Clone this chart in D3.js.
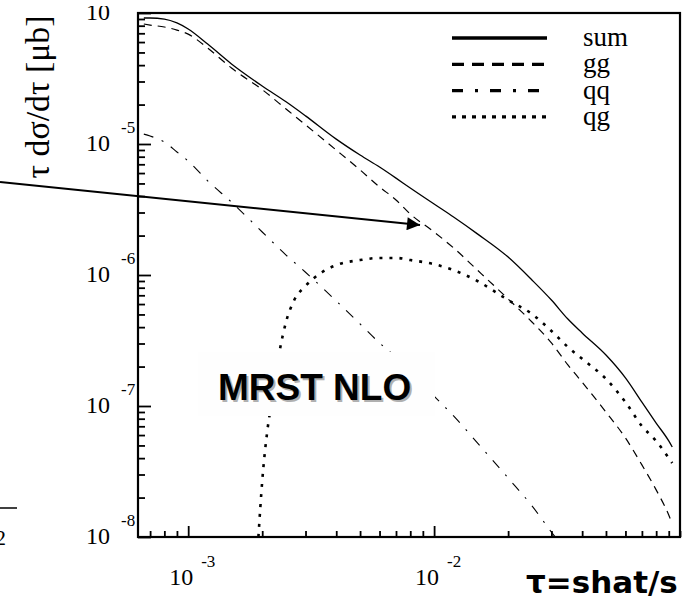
<!DOCTYPE html>
<html>
<head>
<meta charset="utf-8">
<script src="https://cdn.jsdelivr.net/npm/d3@7"></script>
<style>
  body { margin: 0; background: white; }
  svg { display: block; }
  .serif { font-family: "Liberation Serif", "Times New Roman", Times, "DejaVu Serif", serif; }
</style>
</head>
<body>
<div id="chart1"></div>
<script>

// ================================ data
// tau grid shared by sum, gg and qq
var tau = [6.6e-4, 7e-4, 8e-4, 9e-4, 1e-3, 1.2e-3, 1.5e-3, 2e-3, 2.5e-3, 3e-3,
           4e-3, 5e-3, 6e-3, 7e-3, 8e-3, 1e-2, 1.2e-2, 1.5e-2, 2e-2, 2.5e-2,
           3e-2, 3.5e-2, 4e-2, 5e-2, 6e-2, 7e-2, 8e-2, 9e-2, 9.3e-2];

var sumVals = [9.16e-5, 9.16e-5, 8.99e-5, 8.40e-5, 7.55e-5, 5.79e-5, 4.08e-5, 2.77e-5, 2.10e-5, 1.64e-5,
               1.09e-5, 8.24e-6, 6.67e-6, 5.49e-6, 4.61e-6, 3.48e-6, 2.77e-6, 2.06e-6, 1.37e-6, 9.16e-7,
               6.44e-7, 4.61e-7, 3.61e-7, 2.45e-7, 1.64e-7, 1.07e-7, 7.41e-8, 5.41e-8, 4.86e-8];

var ggVals = [8.24e-5, 8.09e-5, 7.82e-5, 7.41e-5, 6.9e-5, 5.4e-5, 3.8e-5, 2.6e-5, 1.85e-5, 1.40e-5,
              8.99e-6, 6.34e-6, 4.70e-6, 3.74e-6, 2.92e-6, 2.13e-6, 1.61e-6, 1.09e-6, 6.56e-7, 4.38e-7,
              3.03e-7, 2.06e-7, 1.52e-7, 8.99e-8, 5.70e-8, 3.55e-8, 2.29e-8, 1.47e-8, 1.26e-8];

var qqVals = [1.19e-5, 1.15e-5, 1.035e-5, 8.69e-6, 7.41e-6, 5.23e-6, 3.60e-6, 2.13e-6, 1.42e-6, 1.05e-6,
              6.34e-7, 4.23e-7, 3.03e-7, 2.37e-7, 1.88e-7, 1.19e-7, 8.40e-8, 5.23e-8, 2.82e-8, 1.73e-8,
              1.09e-8, 7.55e-9, null, null, null, null, null, null, null];

// qg has its own grid (it rises out of the bottom axis)
var tauQg = [1.93e-3, 2.0e-3, 2.1e-3, 2.2e-3, 2.35e-3, 2.5e-3, 2.7e-3, 3e-3, 3.5e-3, 4e-3,
             5e-3, 6e-3, 7e-3, 8e-3, 1e-2, 1.2e-2, 1.5e-2, 2e-2, 2.5e-2, 3e-2,
             3.5e-2, 4e-2, 5e-2, 6e-2, 7e-2, 8e-2, 9e-2, 9.3e-2];

var qgVals = [1.0e-8, 2.67e-8, 6.56e-8, 1.15e-7, 2.58e-7, 4.38e-7, 6.44e-7, 8.24e-7, 1.05e-6, 1.19e-6,
              1.30e-6, 1.35e-6, 1.35e-6, 1.30e-6, 1.21e-6, 1.09e-6, 9.0e-7, 6.44e-7, 5.04e-7, 3.74e-7,
              2.82e-7, 2.29e-7, 1.61e-7, 1.07e-7, 7.03e-8, 5.41e-8, 4.01e-8, 3.67e-8];

var legendNames = ["sum", "gg", "qq", "qg"];
var xMajor = [1e-3, 1e-2];
var yMajor = [1e-8, 1e-7, 1e-6, 1e-5, 1e-4];

// ================================ layout
var svgWidth = 686;
var svgHeight = 600;

var chartMargin = {
  top: 13,
  right: 6,
  bottom: 63,
  left: 138
};

var chartWidth = svgWidth - chartMargin.left - chartMargin.right;
var chartHeight = svgHeight - chartMargin.top - chartMargin.bottom;

// line styles for the plot and for the legend
var plotStyle = {
  sum: { width: 1.3, dash: null },
  gg:  { width: 1.2, dash: "8,6" },
  qq:  { width: 1.1, dash: "10,9,2,9" },
  qg:  { width: 2.6, dash: "3,7" }
};
var legendStyle = {
  sum: { width: 3.5, dash: null },
  gg:  { width: 3.2, dash: "12,8" },
  qq:  { width: 3.2, dash: "11,12,3,12" },
  qg:  { width: 3.2, dash: "4,6" }
};

var svg = d3.select("#chart1")
  .append("svg")
  .attr("width", svgWidth)
  .attr("height", svgHeight);

svg.append("rect")
  .attr("width", svgWidth)
  .attr("height", svgHeight)
  .attr("fill", "white");

var chartGroup = svg.append("g")
  .attr("transform", `translate(${chartMargin.left}, ${chartMargin.top})`);

// log scales
var xLogScale = d3.scaleLog()
  .domain([6.25e-4, 0.1])
  .range([0, chartWidth]);

var yLogScale = d3.scaleLog()
  .domain([1e-8, 1e-4])
  .range([chartHeight, 0]);

svg.append("defs").append("clipPath")
  .attr("id", "plotclip")
  .append("rect")
  .attr("width", chartWidth)
  .attr("height", chartHeight);

// ================================ ticks (pointing into the plot)
var xMinor = xLogScale.ticks().filter(d => xMajor.indexOf(d) < 0 && d > 6.3e-4);
var yMinor = yLogScale.ticks().filter(d => yMajor.indexOf(d) < 0);

function styleAxis(g) {
  g.select(".domain").remove();
  g.selectAll("line").attr("stroke", "black").attr("stroke-width", 1.8);
}

chartGroup.append("g")
  .call(d3.axisLeft(yLogScale).tickValues(yMinor).tickSizeInner(-7).tickSizeOuter(0).tickFormat(""))
  .call(styleAxis);
chartGroup.append("g")
  .call(d3.axisLeft(yLogScale).tickValues(yMajor).tickSizeInner(-13).tickSizeOuter(0).tickFormat(""))
  .call(styleAxis);

chartGroup.append("g")
  .attr("transform", `translate(0, ${chartHeight})`)
  .call(d3.axisBottom(xLogScale).tickValues(xMinor).tickSizeInner(-6).tickSizeOuter(0).tickFormat(""))
  .call(styleAxis);
chartGroup.append("g")
  .attr("transform", `translate(0, ${chartHeight})`)
  .call(d3.axisBottom(xLogScale).tickValues(xMajor).tickSizeInner(-11).tickSizeOuter(0).tickFormat(""))
  .call(styleAxis);

// tick labels: "10" with a raised exponent
yMajor.forEach(function (v) {
  var yy = yLogScale(v);
  chartGroup.append("text")
    .attr("class", "serif")
    .attr("x", -28)
    .attr("y", yy + 7)
    .attr("text-anchor", "end")
    .style("font-size", "24px")
    .text("10");
  chartGroup.append("text")
    .attr("class", "serif")
    .attr("x", -17)
    .attr("y", yy - 11)
    .style("font-size", "17px")
    .text("-" + Math.round(-Math.log10(v)));
});

xMajor.forEach(function (v) {
  var xx = xLogScale(v);
  chartGroup.append("text")
    .attr("class", "serif")
    .attr("x", xx - 7)
    .attr("y", chartHeight + 48)
    .attr("text-anchor", "middle")
    .style("font-size", "24px")
    .text("10");
  chartGroup.append("text")
    .attr("class", "serif")
    .attr("x", xx + 13)
    .attr("y", chartHeight + 30)
    .style("font-size", "17px")
    .text("-" + Math.round(-Math.log10(v)));
});

// ================================ curves
var line = d3.line()
  .defined(d => d[1] != null)
  .x(d => xLogScale(d[0]))
  .y(d => yLogScale(d[1]))
  .curve(d3.curveMonotoneX);

var series = [
  { name: "sum", pts: d3.zip(tau, sumVals) },
  { name: "gg", pts: d3.zip(tau, ggVals) },
  { name: "qq", pts: d3.zip(tau, qqVals) },
  { name: "qg", pts: d3.zip(tauQg, qgVals) }
];

var curveGroup = chartGroup.append("g").attr("clip-path", "url(#plotclip)");

curveGroup.selectAll(".curve")
  .data(series)
  .enter()
  .append("path")
  .attr("class", "curve")
  .attr("d", d => line(d.pts))
  .attr("fill", "none")
  .attr("stroke", "black")
  .attr("stroke-width", d => plotStyle[d.name].width)
  .attr("stroke-dasharray", d => plotStyle[d.name].dash);

// frame round the plot
chartGroup.append("rect")
  .attr("width", chartWidth)
  .attr("height", chartHeight)
  .attr("fill", "none")
  .attr("stroke", "black")
  .attr("stroke-width", 2.2);

// ================================ legend
var legend = svg.append("g");
legendNames.forEach(function (name, i) {
  var ly = 38 + i * 26.3;
  legend.append("line")
    .attr("x1", 452)
    .attr("x2", 547)
    .attr("y1", ly)
    .attr("y2", ly)
    .attr("stroke", "black")
    .attr("stroke-width", legendStyle[name].width)
    .attr("stroke-dasharray", legendStyle[name].dash);
  legend.append("text")
    .attr("class", "serif")
    .attr("x", 583)
    .attr("y", ly + 8)
    .style("font-size", "27px")
    .text(name);
});

// ================================ slide annotations
// box with "MRST NLO"
svg.append("rect")
  .attr("x", 198)
  .attr("y", 352)
  .attr("width", 237)
  .attr("height", 64)
  .attr("fill", "#fefefe");

svg.append("text")
  .attr("x", 220)
  .attr("y", 402)
  .style("font-family", "Liberation Sans, Arial, sans-serif")
  .style("font-weight", "bold")
  .style("font-size", "37px")
  .attr("fill", "#b0b0b0")
  .text("MRST NLO");
svg.append("text")
  .attr("x", 218)
  .attr("y", 400)
  .style("font-family", "Liberation Sans, Arial, sans-serif")
  .style("font-weight", "bold")
  .style("font-size", "37px")
  .attr("fill", "black")
  .text("MRST NLO");

// x axis title
svg.append("text")
  .attr("x", 526)
  .attr("y", 593)
  .style("font-family", "DejaVu Sans, sans-serif")
  .style("font-weight", "bold")
  .style("font-size", "31px")
  .text("τ=shat/s");

// y axis title
svg.append("text")
  .attr("class", "serif")
  .attr("transform", "translate(49, 97) rotate(-90)")
  .attr("text-anchor", "middle")
  .attr("textLength", 163)
  .attr("lengthAdjust", "spacingAndGlyphs")
  .style("font-size", "33px")
  .text("τ dσ/dτ [μb]");

// the 10^-4 label is cut off at the top of the slide
svg.append("rect")
  .attr("x", 60)
  .attr("y", 0)
  .attr("width", 75)
  .attr("height", 6)
  .attr("fill", "white");

// arrow coming in from the left
svg.append("defs").append("marker")
  .attr("id", "head")
  .attr("viewBox", "0 0 10 10")
  .attr("refX", 10)
  .attr("refY", 5)
  .attr("markerUnits", "userSpaceOnUse")
  .attr("markerWidth", 17)
  .attr("markerHeight", 13)
  .attr("orient", "auto")
  .append("path")
  .attr("d", "M0,0 L10,5 L0,10 Z")
  .attr("fill", "black");

svg.append("line")
  .attr("x1", 0)
  .attr("y1", 182)
  .attr("x2", 420)
  .attr("y2", 225)
  .attr("stroke", "black")
  .attr("stroke-width", 2)
  .attr("marker-end", "url(#head)");

// leftover bits of a neighbouring slide
svg.append("line")
  .attr("x1", 0)
  .attr("x2", 17)
  .attr("y1", 508)
  .attr("y2", 508)
  .attr("stroke", "black")
  .attr("stroke-width", 1.5);
svg.append("text")
  .attr("class", "serif")
  .attr("x", -5)
  .attr("y", 545)
  .style("font-size", "22px")
  .text("2");

</script>
</body>
</html>
